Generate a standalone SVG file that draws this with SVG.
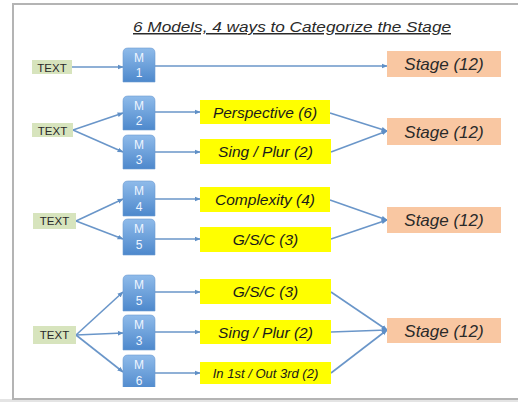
<svg xmlns="http://www.w3.org/2000/svg" width="518" height="402" viewBox="0 0 518 402">
<defs>
<linearGradient id="mg" x1="0" y1="0" x2="0" y2="1">
<stop offset="0" stop-color="#8fbbea"/>
<stop offset="1" stop-color="#4d88cc"/>
</linearGradient>
<marker id="ah" viewBox="0 0 10 10" refX="9" refY="5" markerWidth="6" markerHeight="6" orient="auto" markerUnits="userSpaceOnUse">
<path d="M0,1 L10,5 L0,9 z" fill="#5f8fc6"/>
</marker>
<clipPath id="content"><rect x="14" y="21" width="504" height="366"/></clipPath>
<clipPath id="titleclip"><rect x="0" y="22" width="518" height="30"/></clipPath>
</defs>
<style>
.frame{fill:#ffffff;stroke:#b4b4b4;stroke-width:2}
.txt{fill:#d7e4bd}
.txtl{font-family:"Liberation Sans",Arial,sans-serif;font-size:11.5px;fill:#2a2a2a;text-anchor:middle}
.m{fill:url(#mg);stroke:#6d9bd2;stroke-width:0.6}
.ml{font-family:"Liberation Sans",Arial,sans-serif;font-size:12px;fill:#eef5ff;text-anchor:middle}
.y{fill:#ffff00}
.yl{font-family:"Liberation Sans",Arial,sans-serif;font-style:italic;font-size:15.5px;fill:#1a1a1a;text-anchor:middle}
.ys{font-size:13px}
.st{fill:#f9c7a2}
.stl{font-family:"Liberation Sans",Arial,sans-serif;font-style:italic;font-size:17px;fill:#2a2a2a;text-anchor:middle}
.c line{stroke:#6a96c9;stroke-width:1.6;marker-end:url(#ah)}
.title{font-family:"Liberation Sans",Arial,sans-serif;font-style:italic;font-size:15px;fill:#2a2a2a;text-anchor:middle;text-decoration:underline}
</style>
<rect x="0" y="0" width="518" height="402" fill="#ffffff"/>
<rect x="0" y="399" width="518" height="3" fill="#e4e4e4"/>
<rect class="frame" x="13" y="4" width="510" height="395"/>
<text class="title" x="292" y="32" clip-path="url(#titleclip)" textLength="318" lengthAdjust="spacingAndGlyphs">6 Models, 4 ways to Categorize the Stage</text>
<g clip-path="url(#content)">
<g class="c" id="connectors">
<line x1="72" y1="67" x2="123" y2="67"/>
<line x1="155" y1="66" x2="387" y2="66"/>
<line x1="73" y1="130" x2="123" y2="113"/>
<line x1="73" y1="130" x2="123" y2="152"/>
<line x1="155" y1="112" x2="200" y2="112"/>
<line x1="155" y1="152" x2="200" y2="152"/>
<line x1="330" y1="113" x2="387" y2="131"/>
<line x1="331" y1="152" x2="387" y2="131"/>
<line x1="76" y1="221" x2="123" y2="199"/>
<line x1="76" y1="221" x2="123" y2="239"/>
<line x1="155" y1="199" x2="200" y2="199"/>
<line x1="155" y1="239" x2="200" y2="239"/>
<line x1="330" y1="200" x2="387" y2="220"/>
<line x1="331" y1="239" x2="387" y2="220"/>
<line x1="76" y1="335" x2="123" y2="292"/>
<line x1="76" y1="335" x2="123" y2="333"/>
<line x1="76" y1="335" x2="123" y2="372"/>
<line x1="155" y1="292" x2="200" y2="292"/>
<line x1="155" y1="332" x2="200" y2="332"/>
<line x1="155" y1="373" x2="200" y2="373"/>
<line x1="331" y1="292" x2="387" y2="330"/>
<line x1="331" y1="332" x2="387" y2="330"/>
<line x1="331" y1="373" x2="387" y2="330"/>
</g>
<g id="text1"><rect class="txt" x="32" y="60" width="40" height="14"/><text class="txtl" x="52" y="71.5">TEXT</text></g>
<g id="m1"><path class="m" d="M123,53 Q123,48 128,48 H150 Q155,48 155,53 V82 H123 Z"/><text class="ml" x="139" y="62">M</text><text class="ml" x="139" y="77">1</text></g>
<g id="stage1"><rect class="st" x="387" y="51" width="114" height="26"/><text class="stl" x="444" y="70">Stage (12)</text></g>

<g id="text2"><rect class="txt" x="32" y="123" width="41" height="14"/><text class="txtl" x="52.5" y="134.5">TEXT</text></g>
<g id="m2"><path class="m" d="M123,101 Q123,96 128,96 H150 Q155,96 155,101 V130 H123 Z"/><text class="ml" x="139" y="110">M</text><text class="ml" x="139" y="125">2</text></g>
<g id="m3a"><path class="m" d="M123,140 Q123,135 128,135 H150 Q155,135 155,140 V169 H123 Z"/><text class="ml" x="139" y="149">M</text><text class="ml" x="139" y="164">3</text></g>
<g id="persp"><rect class="y" x="200" y="100" width="130" height="24"/><text class="yl" x="265" y="117.5">Perspective (6)</text></g>
<g id="sing1"><rect class="y" x="200" y="139" width="131" height="25"/><text class="yl" x="265.5" y="157">Sing / Plur (2)</text></g>
<g id="stage2"><rect class="st" x="387" y="118" width="114" height="27"/><text class="stl" x="444" y="137.5">Stage (12)</text></g>

<g id="text3"><rect class="txt" x="33" y="213" width="43" height="16"/><text class="txtl" x="54.5" y="225">TEXT</text></g>
<g id="m4"><path class="m" d="M123,186 Q123,181 128,181 H150 Q155,181 155,186 V216 H123 Z"/><text class="ml" x="139" y="195">M</text><text class="ml" x="139" y="211">4</text></g>
<g id="m5a"><path class="m" d="M123,224 Q123,219 128,219 H150 Q155,219 155,224 V255 H123 Z"/><text class="ml" x="139" y="233">M</text><text class="ml" x="139" y="249">5</text></g>
<g id="complex"><rect class="y" x="200" y="187" width="130" height="25"/><text class="yl" x="265" y="205">Complexity (4)</text></g>
<g id="gsc1"><rect class="y" x="200" y="227" width="131" height="25"/><text class="yl" x="265.5" y="245">G/S/C (3)</text></g>
<g id="stage3"><rect class="st" x="387" y="207" width="114" height="26"/><text class="stl" x="444" y="226">Stage (12)</text></g>

<g id="text4"><rect class="txt" x="33" y="326" width="43" height="18"/><text class="txtl" x="54.5" y="339">TEXT</text></g>
<g id="m5b"><path class="m" d="M123,280 Q123,275 128,275 H150 Q155,275 155,280 V311 H123 Z"/><text class="ml" x="139" y="289">M</text><text class="ml" x="139" y="305">5</text></g>
<g id="m3b"><path class="m" d="M123,320 Q123,315 128,315 H150 Q155,315 155,320 V350 H123 Z"/><text class="ml" x="139" y="329">M</text><text class="ml" x="139" y="345">3</text></g>
<g id="m6"><path class="m" d="M123,360 Q123,355 128,355 H150 Q155,355 155,360 V390 H123 Z"/><text class="ml" x="139" y="369">M</text><text class="ml" x="139" y="385">6</text></g>
<g id="gsc2"><rect class="y" x="200" y="279" width="131" height="25"/><text class="yl" x="265.5" y="297">G/S/C (3)</text></g>
<g id="sing2"><rect class="y" x="200" y="320" width="131" height="24"/><text class="yl" x="265.5" y="337.5">Sing / Plur (2)</text></g>
<g id="in1st"><rect class="y" x="200" y="362" width="131" height="22"/><text class="yl ys" x="265.5" y="377.5">In 1st / Out 3rd (2)</text></g>
<g id="stage4"><rect class="st" x="387" y="318" width="114" height="25"/><text class="stl" x="444" y="336.5">Stage (12)</text></g>
</g>
</svg>
